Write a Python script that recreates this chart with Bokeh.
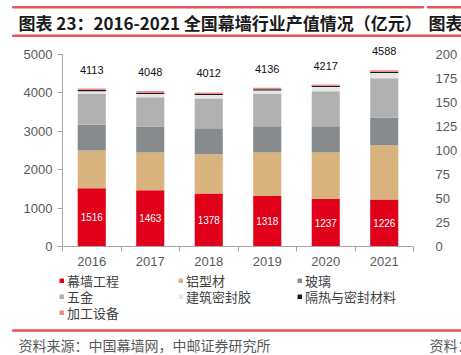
from bokeh.plotting import figure
from bokeh.models import (ColumnDataSource, Range1d, LinearAxis, FixedTicker, Label, LabelSet,
                          Legend, LegendItem)
from bokeh.core.properties import value
from bokeh.embed import file_html
from bokeh.resources import INLINE

# ---- data ----
years = ["2016", "2017", "2018", "2019", "2020", "2021"]
curtain = [1516, 1463, 1378, 1318, 1237, 1226]      # 幕墙工程
aluminum = [984, 985, 1026, 1130, 1211, 1412]        # 铝型材
glass = [677, 677, 678, 686, 686, 721]               # 玻璃
hardware = [800, 764, 772, 842, 911, 1025]           # 五金
sealant = [68, 85, 88, 84, 110, 135]                 # 建筑密封胶
insulation = [32, 30, 32, 34, 30, 28]                # 隔热与密封材料
equipment = [36, 44, 38, 42, 32, 41]                 # 加工设备
totals = [4113, 4048, 4012, 4136, 4217, 4588]
series_names = ["幕墙工程", "铝型材", "玻璃", "五金", "建筑密封胶", "隔热与密封材料", "加工设备"]
left_ticks = [0, 1000, 2000, 3000, 4000, 5000]
right_ticks = [0, 25, 50, 75, 100, 125, 150, 175, 200]
title_text = "图表 23：2016-2021 全国幕墙行业产值情况（亿元）"
source_text = "资料来源：中国幕墙网，中邮证券研究所"

colors = ["#E1001A", "#D9B37E", "#888B8D", "#B0B0B0", "#E6E6E6", "#1A1A1A", "#F4898B"]
W = 461
axis_col = "#A6A6A6"
lab_col = "#595959"
font = "Liberation Sans"
cjk = "Noto Sans CJK SC"
line_col = "#E4565B"


def deco_figure(top, bottom):
    f = figure(width=W, height=bottom - top, output_backend="svg", toolbar_location=None,
               x_range=Range1d(0, W), y_range=Range1d(bottom, top),
               x_axis_location=None, y_axis_location=None,
               min_border=0, min_border_left=0, min_border_right=0,
               min_border_top=0, min_border_bottom=0)
    f.outline_line_color = None
    f.xgrid.visible = False
    f.ygrid.visible = False
    return f


# ---- title strip ----
pa = deco_figure(0, 44)
pa.quad(left=[12, 427], right=[423, W], top=[6, 6], bottom=[7.5, 7.5], color=line_col)
pa.quad(left=[12], right=[W], top=[34.5], bottom=[36], color=line_col)
pa.add_layout(Label(x=18, y=22, text=title_text, text_baseline="middle", text_font=cjk,
                    text_font_size="17px", text_font_style="bold", text_color="#1a1a1a"))
pa.add_layout(Label(x=428, y=22, text="图表", text_baseline="middle", text_font=cjk,
                    text_font_size="17px", text_font_style="bold", text_color="#1a1a1a"))

# ---- main chart ----
xs = [i + 0.5 for i in range(len(years))]
data = dict(x=xs, total=totals, total_txt=[str(t) for t in totals],
            red_mid=[v / 2 for v in curtain], red_txt=[str(v) for v in curtain])
for name, vals in zip(series_names, [curtain, aluminum, glass, hardware, sealant, insulation, equipment]):
    data[name] = vals
source = ColumnDataSource(data)

p = figure(width=W, height=224, output_backend="svg", toolbar_location=None,
           x_range=Range1d(0, len(years)), y_range=Range1d(0, 5260),
           min_border_left=62, min_border_right=48, min_border_top=0, min_border_bottom=22)
p.outline_line_color = None
p.xgrid.visible = False
p.ygrid.visible = False

renderers = p.vbar_stack(series_names, x="x", width=0.48, color=colors, line_color=None, source=source)

xa = p.xaxis[0]
xa.ticker = FixedTicker(ticks=xs, minor_ticks=list(range(len(years) + 1)))
xa.major_label_overrides = {x: y for x, y in zip(xs, years)}
xa.major_tick_out = 0
xa.major_tick_in = 0
xa.minor_tick_out = 5
xa.minor_tick_in = 0
xa.axis_line_color = axis_col
xa.minor_tick_line_color = axis_col
xa.major_label_standoff = 5
xa.major_label_text_font = font
xa.major_label_text_font_size = "13px"
xa.major_label_text_color = lab_col

ya = p.yaxis[0]
ya.ticker = FixedTicker(ticks=left_ticks)
ya.bounds = (0, 5000)
ya.major_tick_out = 5
ya.major_tick_in = 0
ya.minor_tick_line_color = None
ya.axis_line_color = axis_col
ya.major_tick_line_color = axis_col
ya.major_label_standoff = 5
ya.major_label_text_font = font
ya.major_label_text_font_size = "13px"
ya.major_label_text_color = lab_col

p.extra_y_ranges = {"right": Range1d(0, 5260 * 200 / 5000)}
ra = LinearAxis(y_range_name="right", ticker=FixedTicker(ticks=right_ticks), bounds=(0, 200))
ra.axis_line_color = None
ra.major_tick_line_color = None
ra.minor_tick_line_color = None
ra.major_label_standoff = 16
ra.major_label_text_font = font
ra.major_label_text_font_size = "13px"
ra.major_label_text_color = lab_col
p.add_layout(ra, "right")

p.add_layout(LabelSet(x="x", y="total", text="total_txt", y_offset=19, source=source,
                      text_align="center", text_baseline="middle", text_font=value(font),
                      text_font_size="11px", text_color="#111111"))
p.add_layout(LabelSet(x="x", y="red_mid", text="red_txt", source=source,
                      text_align="center", text_baseline="middle", text_font=value(font),
                      text_font_size="10px", text_color="white"))

# ---- legend + source strip ----
pc = deco_figure(268, 355)
# legend proxies: one point each, placed off the visible strip
proxies = [pc.vbar(x=[-1000], top=[1000], bottom=[1000], width=1, color=c) for c in colors]
rows = [[0, 1, 2], [3, 4, 5], [6]]
for i, row in enumerate(rows):
    items = [LegendItem(label=series_names[k], renderers=[proxies[k]]) for k in row]
    lg = Legend(items=items, orientation="horizontal", location=(59, 65.5 - 16 * i),
                padding=0, margin=0, spacing=6, glyph_width=5, glyph_height=5,
                label_standoff=3, label_width=105, label_height=16,
                label_text_font=cjk, label_text_font_size="13px",
                label_text_color="#404040", border_line_color=None,
                background_fill_alpha=0)
    pc.add_layout(lg)
pc.quad(left=[12], right=[W], top=[329.3], bottom=[330.8], color=line_col)
pc.add_layout(Label(x=18, y=344, text=source_text, text_baseline="middle", text_font=cjk,
                    text_font_size="14px", text_color="#595959"))
pc.add_layout(Label(x=429, y=344, text="资料：", text_baseline="middle", text_font=cjk,
                    text_font_size="14px", text_color="#595959"))

open("out.html", "w").write(file_html([pa, p, pc], INLINE))
